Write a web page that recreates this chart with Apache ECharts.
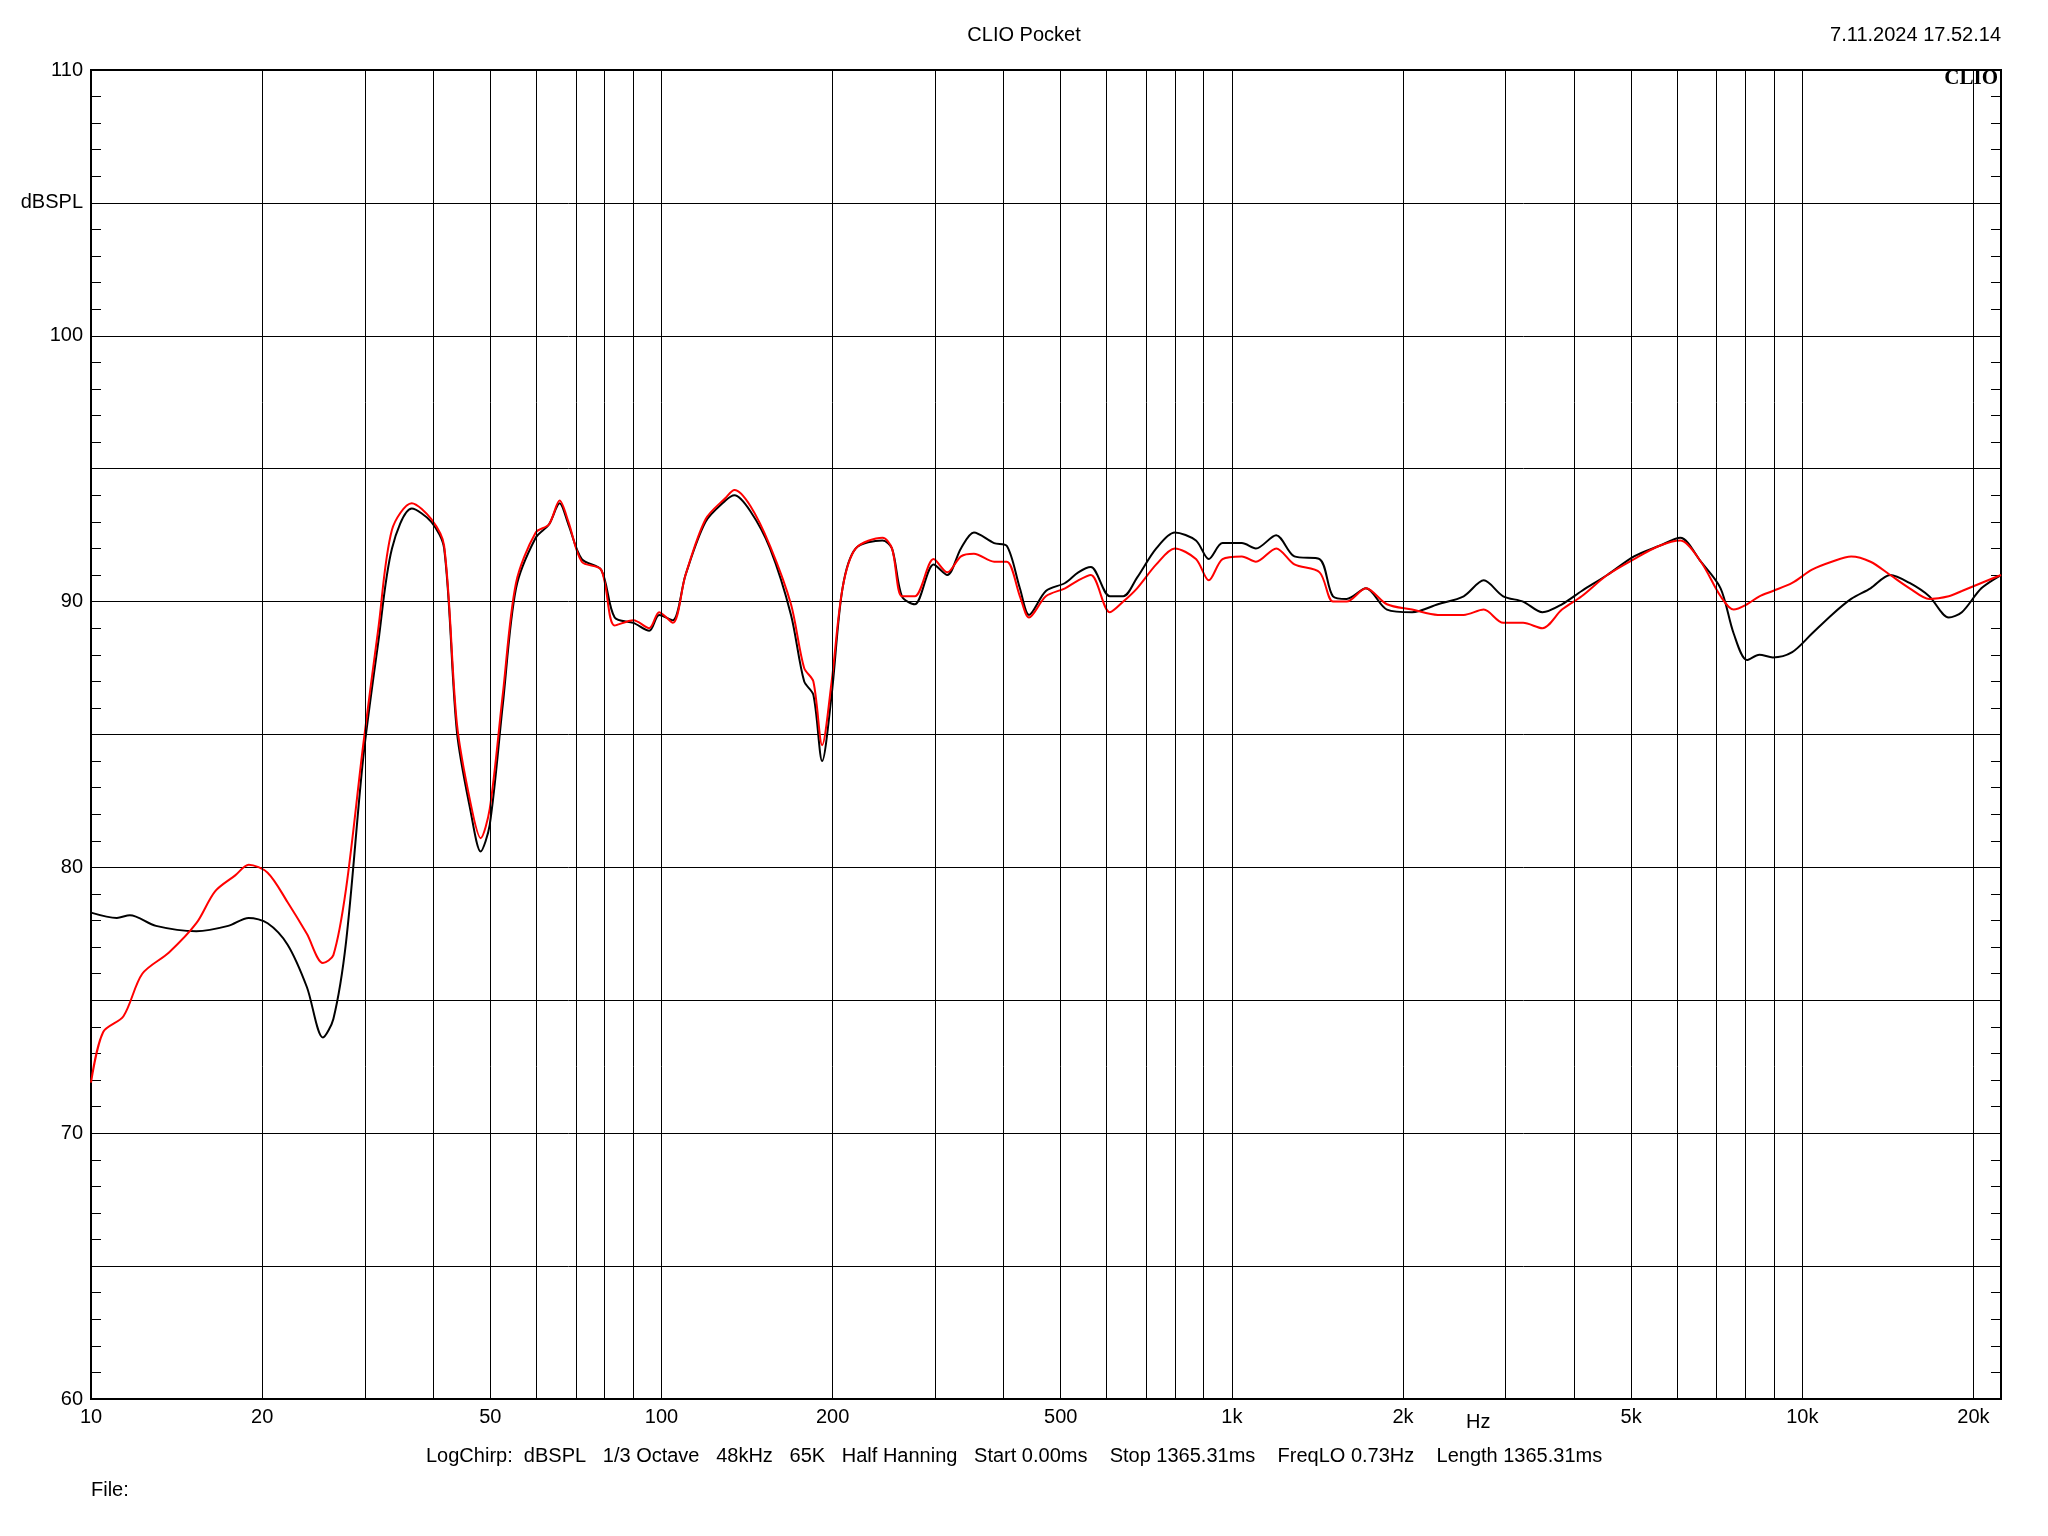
<!DOCTYPE html>
<html><head><meta charset="utf-8">
<script src="https://cdn.jsdelivr.net/npm/echarts@6/dist/echarts.min.js"></script>
<style>html,body{margin:0;padding:0;background:#fff}#c{width:2048px;height:1536px}</style>
</head><body><div id="c"></div>
<script>
const freqBlack=[10,11.1,11.7,13.0,15.3,17.4,18.9,20.4,22.1,23.9,25.5,26.6,28.0,30.0,31.9,33.7,36.5,39.5,41.6,43.8,46.3,48.2,50.0,52.7,55.6,60.2,63.5,66.3,68.7,72.5,78.4,82.8,89.3,95.2,99.1,104.7,110.2,119.5,129.5,134.3,143.2,155,168.7,177.9,184.6,191.3,198.8,207.7,219.1,244.1,253.6,264,278,300,317,335,353,383,403,425,441,472,510,538,566,611,645,682,737,794,865,911,963,1041,1102,1196,1287,1425,1504,1589,1718,1870,2070,2297,2549,2764,2990,3240,3503,3790,4104,4550,5070,5620,6110,6640,7190,7580,8000,8410,8880,9600,10400,11260,12180,13170,14260,15420,16690,18060,19040,20600,22300];
const splBlack=[78.3,78.1,78.2,77.8,77.6,77.8,78.1,77.9,77.1,75.5,73.6,74.3,77.2,84.1,88.5,92.0,93.5,93.0,92.0,85.1,82.1,80.6,81.6,86.1,90.5,92.4,92.9,93.7,92.9,91.6,91.2,89.4,89.2,88.9,89.5,89.3,91.0,93.0,93.8,94.0,93.4,92.0,89.5,87.0,86.5,84.0,86.5,90.5,92.0,92.3,92.0,90.2,89.9,91.4,91.0,92.0,92.6,92.2,92.1,90.5,89.5,90.4,90.7,91.1,91.3,90.2,90.2,90.9,92.0,92.6,92.3,91.6,92.2,92.2,92.0,92.5,91.7,91.6,90.2,90.1,90.5,89.7,89.6,89.9,90.2,90.8,90.2,90.0,89.6,89.9,90.4,91.0,91.7,92.1,92.4,91.5,90.5,88.8,87.8,88.0,87.9,88.1,88.8,89.5,90.1,90.5,91.0,90.7,90.2,89.4,89.6,90.5,91.0];
const freqRed=[10,10.5,11.4,12.3,13.7,15.3,16.5,17.9,18.9,20.4,22.1,23.9,25.5,26.6,28.0,30.0,31.9,33.7,36.5,39.5,41.6,43.8,46.3,48.2,50.0,52.7,55.6,60.2,63.5,66.3,68.7,72.5,78.4,82.8,89.3,95.2,99.1,104.7,110.2,119.5,129.5,134.3,143.2,155,168.7,177.9,184.6,191.3,198.8,207.7,219.1,244.1,253.6,264,278,300,317,335,353,383,403,425,441,472,510,538,566,611,645,682,737,794,865,911,963,1041,1102,1196,1287,1425,1504,1589,1718,1870,2070,2297,2549,2764,2990,3240,3503,3790,4104,4550,5070,5620,6110,6640,7190,7580,8000,8410,8880,9600,10400,11260,12180,13170,14260,15420,16690,18060,19040,20600,22300];
const splRed=[71.9,73.8,74.4,76.0,76.8,77.9,79.1,79.7,80.1,79.8,78.7,77.5,76.4,76.7,79.2,84.6,89.0,92.7,93.7,93.1,92.1,85.4,82.4,81.1,82.2,86.5,90.7,92.6,92.9,93.8,93.0,91.5,91.2,89.1,89.3,89.0,89.6,89.2,91.0,93.1,93.9,94.2,93.6,92.1,89.9,87.5,87.0,84.6,87.0,90.5,92.0,92.4,92.0,90.2,90.2,91.6,91.1,91.7,91.8,91.5,91.5,90.2,89.4,90.2,90.5,90.8,91.0,89.6,90.0,90.5,91.4,92.0,91.6,90.8,91.6,91.7,91.5,92.0,91.4,91.1,90.0,90.0,90.5,89.9,89.7,89.5,89.5,89.7,89.2,89.2,89.0,89.7,90.2,91.0,91.6,92.1,92.3,91.5,90.2,89.7,89.9,90.2,90.4,90.7,91.2,91.5,91.7,91.5,91.0,90.5,90.1,90.2,90.4,90.7,91.0];
const gridFreqs=[20,30,40,50,60,70,80,90,100,200,300,400,500,600,700,800,900,1000,2000,3000,4000,5000,6000,7000,8000,9000,10000,20000];
const labelFreqs={10:'10',20:'20',50:'50',100:'100',200:'200',500:'500',1000:'1k',2000:'2k',5000:'5k',10000:'10k',20000:'20k'};
const yTickLabels={110:'110',105:'dBSPL',100:'100',90:'90',80:'80',70:'70',60:'60'};
const F='"Liberation Sans", Arial, sans-serif';
const toPts=(f,s)=>f.map((v,i)=>[Math.log10(v),s[i]]);
const ml=[10].concat(gridFreqs).map(f=>({xAxis:Math.log10(f),
  label:{show:!!labelFreqs[f],formatter:labelFreqs[f]||'',position:'start',distance:8,color:'#000',fontSize:20,fontFamily:F},
  lineStyle:{width:f===10?0:1}}));
const yAx=(pos)=>({type:'value',min:60,max:110,interval:5,position:pos,
  axisLine:{show:true,lineStyle:{color:'#000',width:2}},
  axisTick:{show:true,inside:true,length:10,lineStyle:{color:'#000'}},
  minorTick:{show:true,splitNumber:5,length:10,lineStyle:{color:'#000'}},
  splitLine:{show:pos==='left',lineStyle:{color:'#000',width:1}},
  axisLabel:{show:pos==='left',color:'#000',fontSize:20,fontFamily:F,margin:8,formatter:v=>yTickLabels[v]||''}});
const chart=echarts.init(document.getElementById('c'),null,{renderer:'canvas'});
chart.setOption({
  backgroundColor:'#fff',animation:false,
  grid:{left:91,right:47,top:70,bottom:137,show:true,borderColor:'#000',borderWidth:2},
  xAxis:{type:'value',min:1,max:Math.log10(22300),axisLabel:{show:false},axisTick:{show:false},splitLine:{show:false},axisLine:{lineStyle:{color:'#000',width:2}}},
  yAxis:[yAx('left'),yAx('right')],
  series:[
    {type:'line',data:[],markLine:{silent:true,symbol:'none',lineStyle:{color:'#000',type:'solid',width:1},data:ml}},
    {type:'line',data:toPts(freqBlack,splBlack),showSymbol:false,smooth:0.3,lineStyle:{color:'#000',width:2},z:3},
    {type:'line',data:toPts(freqRed,splRed),showSymbol:false,smooth:0.3,lineStyle:{color:'#ff0000',width:2},z:4}
  ],
  graphic:[
    {type:'text',left:'center',top:25,style:{text:'CLIO Pocket',font:'20px '+F,fill:'#000'}},
    {type:'text',right:47,top:25,style:{text:'7.11.2024 17.52.14',font:'20px '+F,fill:'#000'}},
    {type:'text',right:50,top:68,style:{text:'CLIO',font:'bold 21px "Liberation Serif", serif',fill:'#000'}},
    {type:'text',left:1466,top:1412,style:{text:'Hz',font:'20px '+F,fill:'#000'}},
    {type:'text',left:426,top:1446,style:{text:'LogChirp:  dBSPL   1/3 Octave   48kHz   65K   Half Hanning   Start 0.00ms    Stop 1365.31ms    FreqLO 0.73Hz    Length 1365.31ms',font:'20px '+F,fill:'#000',whiteSpace:'pre'}},
    {type:'text',left:91,top:1480,style:{text:'File:',font:'20px '+F,fill:'#000'}}
  ]
});
</script></body></html>
